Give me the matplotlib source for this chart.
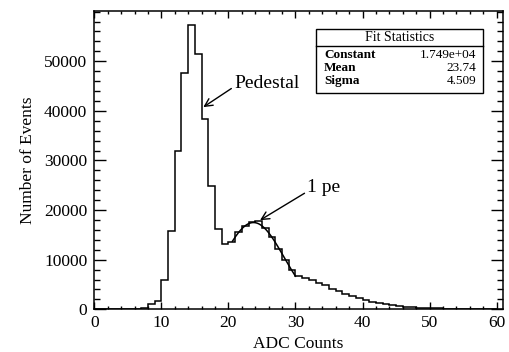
import numpy as np
import matplotlib
matplotlib.use("Agg")
import matplotlib.pyplot as plt

# ADC spectrum, one bin per ADC count starting at 0
counts = [0, 0, 0, 0, 0, 0, 0, 280, 1000, 1730,
          5890, 15750, 31900, 47670, 57320, 51490, 38420, 24800, 16090, 13190,
          13600, 15610, 16750, 17500, 17760, 16290, 14480, 12070, 9920, 7900,
          6760, 6300, 5830, 5230, 4800, 4080, 3610, 3080, 2610, 2210,
          1880, 1540, 1280, 1010, 880, 700, 560, 440, 360, 290,
          230, 170, 120, 80, 60, 40, 30, 20, 15, 10]
edges = np.arange(len(counts) + 1)

# gaussian fit of the 1 pe peak
fit_names = ["Constant", "Mean", "Sigma"]
fit_values = [1.749e4, 23.74, 4.509]
fit_labels = ["1.749e+04", "23.74", "4.509"]
fit_range = [20.6, 30.0]


def main():
    plt.rcParams['font.family'] = ['Liberation Serif', 'DejaVu Serif']

    fig = plt.figure(figsize=(5.1, 3.52), dpi=100)
    ax = fig.add_axes([0.1849, 0.1213, 0.8008, 0.8483])

    ax.stairs(counts, edges, color="black", linewidth=1.1)

    const, mean, sigma = fit_values
    xf = np.linspace(fit_range[0], fit_range[1], 200)
    ax.plot(xf, const * np.exp(-0.5 * ((xf - mean) / sigma) ** 2),
            color="black", linewidth=1.1)

    ax.set_xlim(0, 60.9)
    ax.set_ylim(0, 1.05 * max(counts))
    ax.set_xticks(np.arange(0, 61, 10))
    ax.set_xticks(np.arange(0, 61, 2), minor=True)
    ax.set_yticks(np.arange(0, 50001, 10000))
    ax.set_yticks(np.arange(0, 60001, 2000), minor=True)

    ax.tick_params(which="both", direction="in", top=True, right=True,
                   labelsize=12.5, width=1.0)
    ax.tick_params(axis="x", which="major", length=5, pad=4)
    ax.tick_params(axis="x", which="minor", length=2.5)
    ax.tick_params(axis="y", which="major", length=8.5, pad=5)
    ax.tick_params(axis="y", which="minor", length=4.3)
    for s in ax.spines.values():
        s.set_linewidth(1.1)

    ax.set_xlabel("ADC Counts", fontsize=12.5, labelpad=4)
    ax.set_ylabel("Number of Events", fontsize=12.5, labelpad=6)

    ax.annotate("Pedestal", xy=(16.25, 40750), xytext=(20.85, 44650),
                fontsize=14, va="baseline", ha="left",
                arrowprops=dict(arrowstyle="->", color="black", lw=1.0,
                                shrinkA=0, shrinkB=0, relpos=(0, 0.3)))
    ax.annotate("1 pe", xy=(24.71, 17960), xytext=(31.76, 23650),
                fontsize=14, va="baseline", ha="left",
                arrowprops=dict(arrowstyle="->", color="black", lw=1.0,
                                shrinkA=0, shrinkB=0, relpos=(-0.05, 0.2)))

    # fit statistics box
    x0, x1, y0, y1 = 0.542, 0.9525, 0.7254, 0.9377
    ax.add_patch(plt.Rectangle((x0, y0), x1 - x0, y1 - y0, transform=ax.transAxes,
                               facecolor="white", edgecolor="black", lw=1.0, zorder=5))
    ax.plot([x0, x1], [0.8828, 0.8828], transform=ax.transAxes, color="black",
            lw=1.0, zorder=6)
    ax.text((x0 + x1) / 2, 0.9103, "Fit Statistics", transform=ax.transAxes,
            ha="center", va="center", fontsize=10, zorder=7)
    for i, (name, lab) in enumerate(zip(fit_names, fit_labels)):
        y = 0.8517 - i * 0.0435
        ax.text(0.5627, y, name, transform=ax.transAxes, ha="left", va="center",
                fontsize=9.5, fontweight="bold", zorder=7)
        ax.text(0.9348, y, lab, transform=ax.transAxes, ha="right", va="center",
                fontsize=9.5, zorder=7)

    fig.savefig("out.png", dpi=100)


if __name__ == "__main__":
    main()
